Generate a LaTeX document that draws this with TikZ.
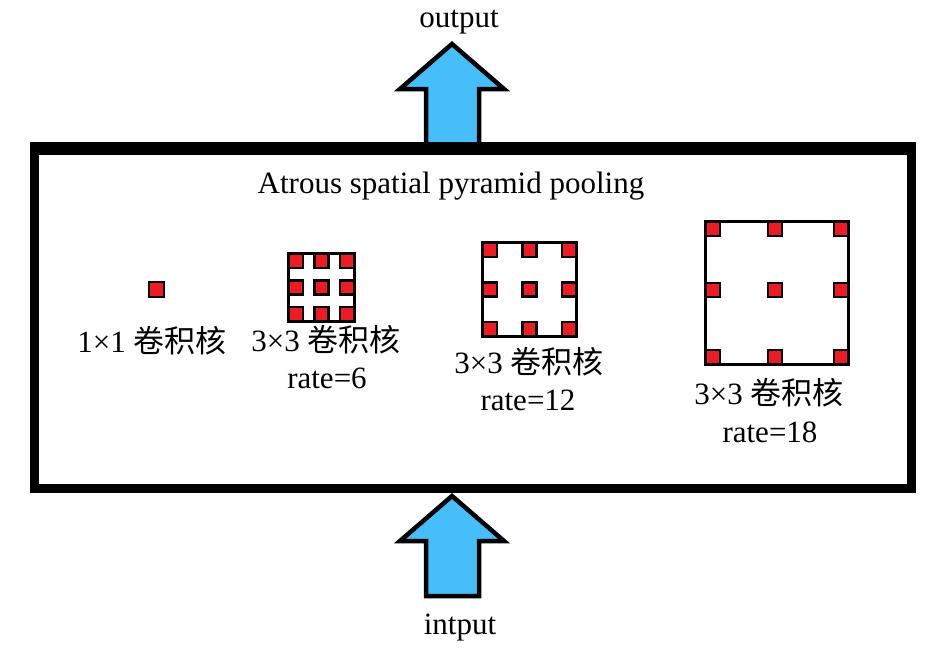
\documentclass[tikz,border=0pt]{standalone}
\usepackage{fontspec}
\setmainfont{Liberation Serif}
\newfontfamily\cjk{Noto Sans CJK SC}
\usetikzlibrary{backgrounds}
\definecolor{arrowblue}{RGB}{69,190,249}
\definecolor{kred}{RGB}{237,28,36}
\tikzset{
  redsq/.style={draw=black, fill=kred, line width=2.2pt, minimum size=14pt, inner sep=0pt, outer sep=0pt},
  kbox/.style={draw=black, line width=2.4pt, inner sep=0pt, outer sep=0pt},
  bigarrow/.style={draw=black, fill=arrowblue, line width=4.5pt, line join=miter},
  lbl/.style={font=\fontsize{31}{37}\selectfont, inner sep=0pt, anchor=base},
}
\begin{document}
\begin{tikzpicture}[x=1pt,y=-1pt]
\useasboundingbox (0,0) rectangle (945,648);
\fill[white] (0,0) rectangle (945,648);

% main box
\node[draw=black, line width=9pt, minimum width=877pt, minimum height=338pt, inner sep=0pt] (aspp) at (473,319.5) {};

% output arrow
\coordinate (outTip) at (452,44);
\draw[bigarrow] (426,150) -- (426,89) -- (400,89) -- (outTip) -- (504,89) -- (479,89) -- (479,150) -- cycle;
% input arrow
\coordinate (inTip) at (452,496);
\draw[bigarrow] (inTip) -- (504,541) -- (479,541) -- (479,596) -- (426,596) -- (426,541) -- (400,541) -- cycle;
\draw[black, line width=9pt] (aspp.north west) -- (aspp.north east);

% texts
\node[lbl] (out) at (459,27) {output};
\node[lbl] (in) at (460,634) {intput};
\node[lbl] (title) at (451,193) {Atrous spatial pyramid pooling};
\node[lbl] (l1) at (152,352) {1×1 {\cjk 卷积核}};
\node[lbl] (l6) at (326,351) {3×3 {\cjk 卷积核}};
\node[lbl] (r6) at (327,388) {rate=6};
\node[lbl] (l12) at (529,373) {3×3 {\cjk 卷积核}};
\node[lbl] (r12) at (528,410) {rate=12};
\node[lbl] (l18) at (769,404) {3×3 {\cjk 卷积核}};
\node[lbl] (r18) at (770,442) {rate=18};

% 1x1 kernel
\node[redsq, minimum size=14.5pt] (k1) at (156.5,289.5) {};

% rate 6 kernel
\node[kbox, minimum width=66pt, minimum height=68pt] (b6) at (321.5,287.5) {};
\foreach \i/\x in {1/296,2/321.5,3/347}
  \foreach \j/\y in {1/261,2/287.5,3/314}
    \node[redsq] (s6-\i-\j) at (\x,\y) {};

% rate 12 kernel
\node[kbox, minimum width=94pt, minimum height=94pt] (b12) at (529.5,289.5) {};
\foreach \i/\x in {1/490,2/529.5,3/569}
  \foreach \j/\y in {1/250,2/289.5,3/329}
    \node[redsq] (s12-\i-\j) at (\x,\y) {};

% rate 18 kernel
\node[kbox, minimum width=143pt, minimum height=143pt] (b18) at (777,293) {};
\foreach \i/\x in {1/713,2/775,3/841}
  \foreach \j/\y in {1/229,2/290,3/357}
    \node[redsq] (s18-\i-\j) at (\x,\y) {};
\end{tikzpicture}
\end{document}
